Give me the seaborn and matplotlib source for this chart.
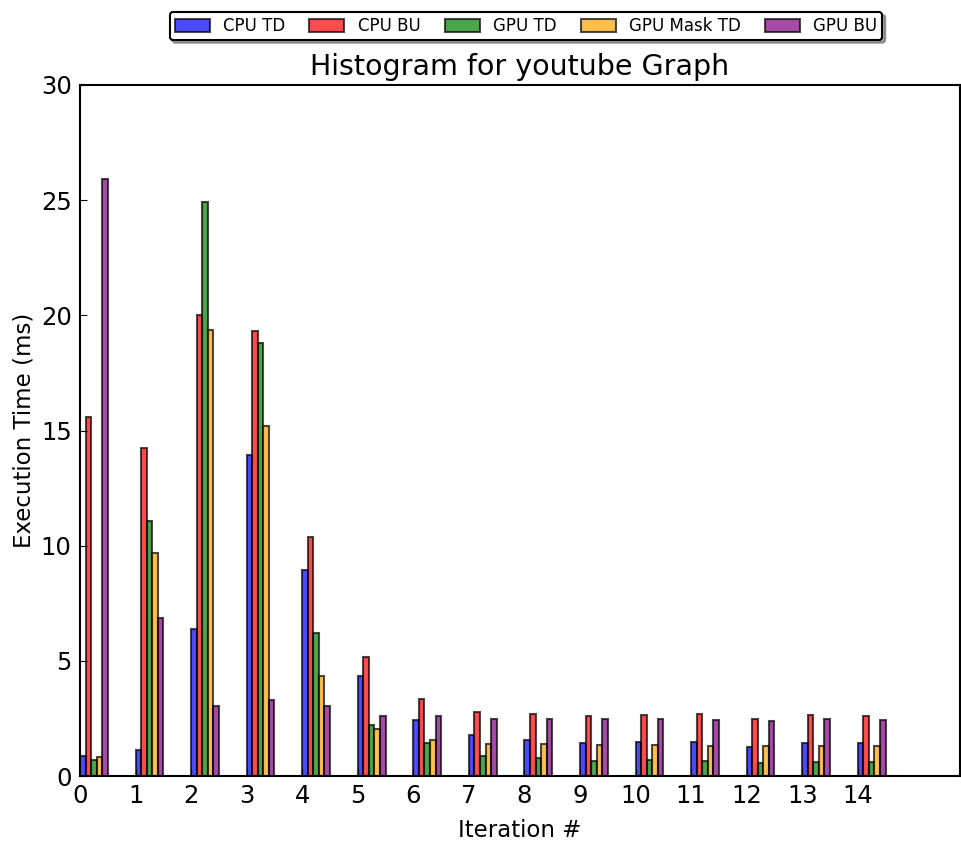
import numpy as np
import pandas as pd
import matplotlib
matplotlib.use("Agg")
import matplotlib.pyplot as plt
import seaborn as sns

iterations = list(range(15))
series_names = ["CPU TD", "CPU BU", "GPU TD", "GPU Mask TD", "GPU BU"]
cpu_td = [0.89, 1.12, 6.39, 13.95, 8.94, 4.36, 2.45, 1.78, 1.58, 1.43, 1.46, 1.48, 1.26, 1.45, 1.42]
cpu_bu = [15.6, 14.23, 20.0, 19.3, 10.39, 5.17, 3.36, 2.79, 2.69, 2.59, 2.65, 2.69, 2.46, 2.65, 2.60]
gpu_td = [0.69, 11.08, 24.91, 18.81, 6.22, 2.23, 1.45, 0.87, 0.78, 0.67, 0.69, 0.64, 0.55, 0.62, 0.59]
gpu_mask_td = [0.82, 9.67, 19.38, 15.2, 4.34, 2.03, 1.55, 1.41, 1.39, 1.33, 1.36, 1.32, 1.29, 1.30, 1.30]
gpu_bu = [25.9, 6.87, 3.06, 3.28, 3.05, 2.62, 2.59, 2.48, 2.46, 2.46, 2.46, 2.45, 2.40, 2.46, 2.45]
colors = ["blue", "red", "green", "orange", "purple"]

values = [cpu_td, cpu_bu, gpu_td, gpu_mask_td, gpu_bu]
df = pd.DataFrame({
    "iteration": np.repeat(iterations, len(series_names)),
    "series": series_names * len(iterations),
    "time": [values[s][i] for i in iterations for s in range(len(series_names))],
})

group_width = 0.5
fig = plt.figure(figsize=(9.62, 8.41), dpi=100)
ax = fig.add_axes([80 / 962, 1 - 776 / 841, 880 / 962, 691 / 841])

sns.barplot(data=df, x="iteration", y="time", hue="series", hue_order=series_names,
            palette=dict(zip(series_names, colors)), native_scale=True,
            width=group_width, gap=0, dodge=True, errorbar=None, saturation=1,
            alpha=0.7, edgecolor="black", linewidth=1.5, ax=ax)

handles, labels = ax.get_legend_handles_labels()
if ax.get_legend() is not None:
    ax.get_legend().remove()

ax.set_xticks(np.array(iterations) - group_width / 2)
ax.set_xticklabels([str(i) for i in iterations])
ax.set_xlim(-group_width / 2, 15.84 - group_width / 2)
ax.set_ylim(0, 30)
ax.set_yticks([0, 5, 10, 15, 20, 25, 30])
ax.tick_params(direction="in", length=5, labelsize=17.5, top=False, right=False, pad=6)
for sp in ax.spines.values():
    sp.set_linewidth(1.5)
    sp.set_color("black")

ax.set_title("Histogram for youtube Graph", fontsize=20.5, pad=7)
ax.set_xlabel("Iteration #", fontsize=16.5, labelpad=8)
ax.set_ylabel("Execution Time (ms)", fontsize=16.5, labelpad=4)

leg = fig.legend(handles, labels, loc="center", bbox_to_anchor=(526 / 962, 1 - 26 / 841),
                 ncol=5, fontsize=12, shadow=True, fancybox=True, frameon=True,
                 handlelength=2.1, handleheight=0.8, columnspacing=1.45, borderpad=0.3)
leg.get_frame().set_edgecolor("black")
leg.get_frame().set_linewidth(1.5)
leg.get_frame().set_alpha(1)

fig.savefig("out.png", dpi=100, facecolor="white")
